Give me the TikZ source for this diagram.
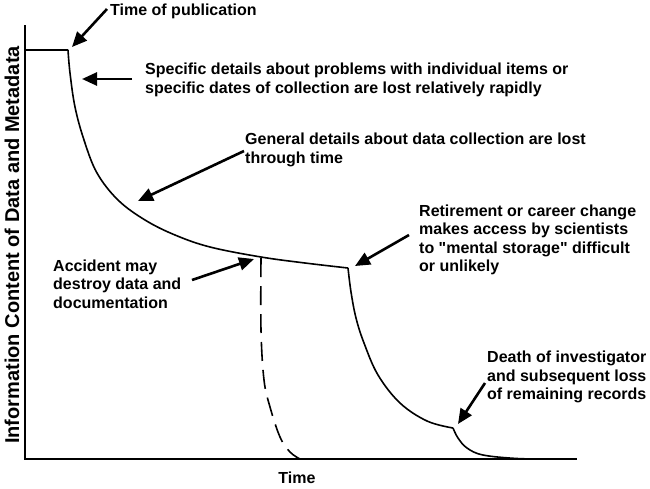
\documentclass[tikz,border=0pt]{standalone}
\usepackage{fontspec}
\setmainfont{Liberation Sans}
\usetikzlibrary{arrows.meta}

\begin{document}
\begin{tikzpicture}[%
    x=1pt,
    y=-1pt,
    note/.style={
      anchor=west,
      align=left,
      inner sep=0pt,
      font=\bfseries\fontsize{16}{18.5}\selectfont
    },
    pointer/.style={
      draw,
      line width=2.6pt,
      -{Triangle[length=15pt,width=13pt]}
    },
    axis/.style={
      draw,
      line width=1.8pt
    },
    curve/.style={
      draw,
      line width=1.6pt
    }
  ]
    \useasboundingbox (0,0) rectangle (650,488);

    % axes
    \coordinate (top) at (25,25);
    \coordinate (origin) at (25,459);
    \coordinate (right) at (577,459);
    \draw[axis] (top) -- (origin) -- (right);

    % information content through time
    \coordinate (pubpt) at (68,50);
    \coordinate (accpt) at (261,258);
    \coordinate (retpt) at (348,268);
    \coordinate (deathpt) at (453,428);
    \draw[curve] (25,50) -- (pubpt)
      plot[smooth,tension=0.6] coordinates {(68,50) (70,73) (75,107) (84,140)
        (97,173) (118,200) (145,220) (175,235) (210,247) (261,257) (305,263) (348,268)};
    \draw[curve] plot[smooth,tension=0.6] coordinates {(348,268) (351,292)
        (356,318) (364,343) (378,375) (400,403) (427,421) (453,428)};
    \draw[curve] plot[smooth,tension=0.6] coordinates {(453,428) (458,438)
        (467,448) (483,455) (517,458.5) (550,459)};
    \draw[curve,dash pattern=on 19pt off 9pt] plot[smooth,tension=0.6]
      coordinates {(accpt) (261,330) (264,380) (270,407) (280,437) (290,452) (300,459)};

    % labels
    \node[note] (pub) at (110,11) {Time of publication};
    \node[note] (spec) at (145,80) {Specific details about problems with individual items or\\
      specific dates of collection are lost relatively rapidly};
    \node[note] (gen) at (245,150) {General details about data collection are lost\\
      through time};
    \node[note] (acc) at (53,284) {Accident may\\destroy data and\\documentation};
    \node[note] (ret) at (419,240) {Retirement or career change\\
      makes access by scientists\\to \textquotedbl mental storage\textquotedbl{} difficult\\or unlikely};
    \node[note] (death) at (487,377) {Death of investigator\\
      and subsequent loss\\of remaining records};
    \node[note,anchor=center] (time) at (297,478) {Time};
    \node[note,anchor=center,rotate=90,font=\bfseries\fontsize{20}{22}\selectfont]
      (info) at (12,245) {Information Content of Data and Metadata};

    % pointers
    \coordinate (pubtail) at (107,9);
    \coordinate (pubtip) at (72,47);
    \coordinate (spectail) at (132,79);
    \coordinate (spectip) at (82,79);
    \coordinate (gentail) at (244,151);
    \coordinate (gentip) at (138,201);
    \coordinate (acctail) at (192,280);
    \coordinate (acctip) at (254,259);
    \coordinate (rettail) at (409,235);
    \coordinate (rettip) at (355,266);
    \coordinate (deathtail) at (485,383);
    \coordinate (deathtip) at (458,424);
    \draw[pointer] (pubtail) -- (pubtip);
    \draw[pointer] (spectail) -- (spectip);
    \draw[pointer] (gentail) -- (gentip);
    \draw[pointer] (acctail) -- (acctip);
    \draw[pointer] (rettail) -- (rettip);
    \draw[pointer] (deathtail) -- (deathtip);
  \end{tikzpicture}
\end{document}
